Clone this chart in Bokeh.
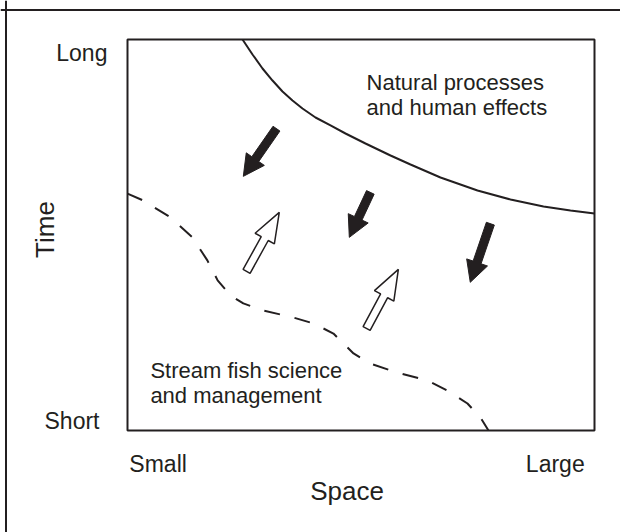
import math
from bokeh.plotting import figure
from bokeh.models import Range1d, Label, Span
from bokeh.embed import file_html
from bokeh.resources import INLINE

# ---- data (Space 0..100 = Small..Large, Time 0..100 = Short..Long) ----
space_ticks = ["Small", "Large"]
time_ticks = ["Short", "Long"]

# upper solid boundary: natural processes and human effects
nat_x = [24.63, 26.77, 28.91, 31.05, 33.19, 35.33, 37.47, 40.26, 43.47, 46.68, 50.96,
         56.32, 60.60, 67.02, 74.95, 82.01, 89.08, 94.86, 100.0]
nat_y = [100.0, 96.16, 92.58, 89.51, 86.70, 84.40, 82.35, 80.05, 78.01, 75.96, 73.40,
         70.33, 68.03, 64.71, 61.38, 59.08, 57.29, 56.27, 55.50]

# lower dashed boundary: stream fish science and management
sci_x = [0.0, 3.4, 9.2, 13.9, 17.1, 19.3, 22.1, 24.8, 29.1, 35.5, 39.8, 44.1, 48.4, 52.0,
         57.8, 64.2, 68.5, 72.8, 75.6, 77.3]
sci_y = [60.6, 58.8, 54.5, 49.4, 43.5, 38.4, 34.5, 32.5, 30.7, 28.9, 27.4, 24.8, 19.7, 17.1,
         14.8, 12.8, 10.2, 6.9, 3.3, 0.0]

# filled arrows (tail -> tip), pointing toward small/short
down_tail_x = [31.9, 52.0, 77.7]
down_tail_y = [77.2, 60.9, 52.9]
down_tip_x = [24.8, 47.5, 73.4]
down_tip_y = [65.0, 49.4, 37.9]

# open arrows (tail -> tip), pointing toward large/long
up_tail_x = [25.5, 51.2]
up_tail_y = [40.7, 26.1]
up_tip_x = [32.5, 58.0]
up_tip_y = [55.8, 41.2]

# ---- layout: the frame covers the whole canvas ----
W, H = 620, 532
FW, FH = 467, 391           # px size of the Space/Time box
BOX_L, BOX_T = 127, 39      # box position inside the canvas, px
sx, sy = FW / 100.0, FH / 100.0
x0 = -BOX_L / sx
x1 = (W - BOX_L) / sx
y1 = 100 + BOX_T / sy
y0 = 100 - (H - BOX_T) / sy

ink = "#231f20"
font = "Liberation Sans"

p = figure(width=W, height=H, output_backend="svg", toolbar_location=None,
           x_range=Range1d(x0, x1), y_range=Range1d(y0, y1),
           min_border=0, min_border_left=0, min_border_right=0,
           min_border_top=0, min_border_bottom=0)
p.xaxis.visible = False
p.yaxis.visible = False
p.xgrid.visible = False
p.ygrid.visible = False
p.outline_line_color = None
p.background_fill_color = "white"
p.border_fill_color = "white"

# outer frame lines (top and left)
p.add_layout(Span(location=y1 - 9.5 / sy, dimension="width", line_color=ink, line_width=2))
p.add_layout(Span(location=x0 + 5.5 / sx, dimension="height", line_color=ink, line_width=2))

# Space/Time box
p.quad(left=[0], right=[100], bottom=[0], top=[100], fill_color=None,
       line_color=ink, line_width=2)


def arrow_poly(tx, ty, hx, hy, half_shaft, head_len, head_half):
    # geometry in pixel space, converted back to data units
    ax, ay = tx * sx, ty * sy
    bx, by = hx * sx, hy * sy
    L = math.hypot(bx - ax, by - ay)
    ux, uy = (bx - ax) / L, (by - ay) / L
    nx, ny = -uy, ux
    cx, cy = bx - ux * head_len, by - uy * head_len
    pts = [(ax + nx * half_shaft, ay + ny * half_shaft),
           (cx + nx * half_shaft, cy + ny * half_shaft),
           (cx + nx * head_half, cy + ny * head_half),
           (bx, by),
           (cx - nx * head_half, cy - ny * head_half),
           (cx - nx * half_shaft, cy - ny * half_shaft),
           (ax - nx * half_shaft, ay - ny * half_shaft)]
    return [q[0] / sx for q in pts], [q[1] / sy for q in pts]


p.line(nat_x, nat_y, line_color=ink, line_width=2)
p.line(sci_x, sci_y, line_color=ink, line_width=2, line_dash="16 15")

dxs, dys = [], []
for i in range(len(down_tail_x)):
    xs, ys = arrow_poly(down_tail_x[i], down_tail_y[i], down_tip_x[i], down_tip_y[i], 4.2, 21, 11)
    dxs.append(xs); dys.append(ys)
p.patches(dxs, dys, fill_color=ink, line_color=ink, line_width=1)

uxs, uys = [], []
for i in range(len(up_tail_x)):
    xs, ys = arrow_poly(up_tail_x[i], up_tail_y[i], up_tip_x[i], up_tip_y[i], 4.0, 30, 11)
    uxs.append(xs); uys.append(ys)
p.patches(uxs, uys, fill_color="white", line_color=ink, line_width=1.5)


def lab(x, y, t, size, align="left", rotated=False):
    shift = 0.37 * size  # baseline correction, px
    if rotated:
        x -= shift / sx
    else:
        y += shift / sy
    p.add_layout(Label(x=x, y=y, text=t, text_font=font, text_font_size=f"{size}px",
                       text_color=ink, text_align=align, text_baseline="alphabetic",
                       angle=math.pi / 2 if rotated else 0.0))


lab(51.2, 86.8, "Natural processes", 22)
lab(51.2, 80.6, "and human effects", 22)
lab(4.9, 13.2, "Stream fish science", 22)
lab(4.9, 6.8, "and management", 22)
lab(-4.3, 94.4, time_ticks[1], 23, "right")
lab(-6.0, 0.2, time_ticks[0], 23, "right")
lab(0.4, -10.7, space_ticks[0], 23, "left")
lab(97.9, -10.7, space_ticks[1], 23, "right")
lab(47.0, -17.9, "Space", 26, "center")
lab(-15.6, 51.4, "Time", 26, "center", rotated=True)

open("out.html", "w").write(file_html(p, INLINE))
